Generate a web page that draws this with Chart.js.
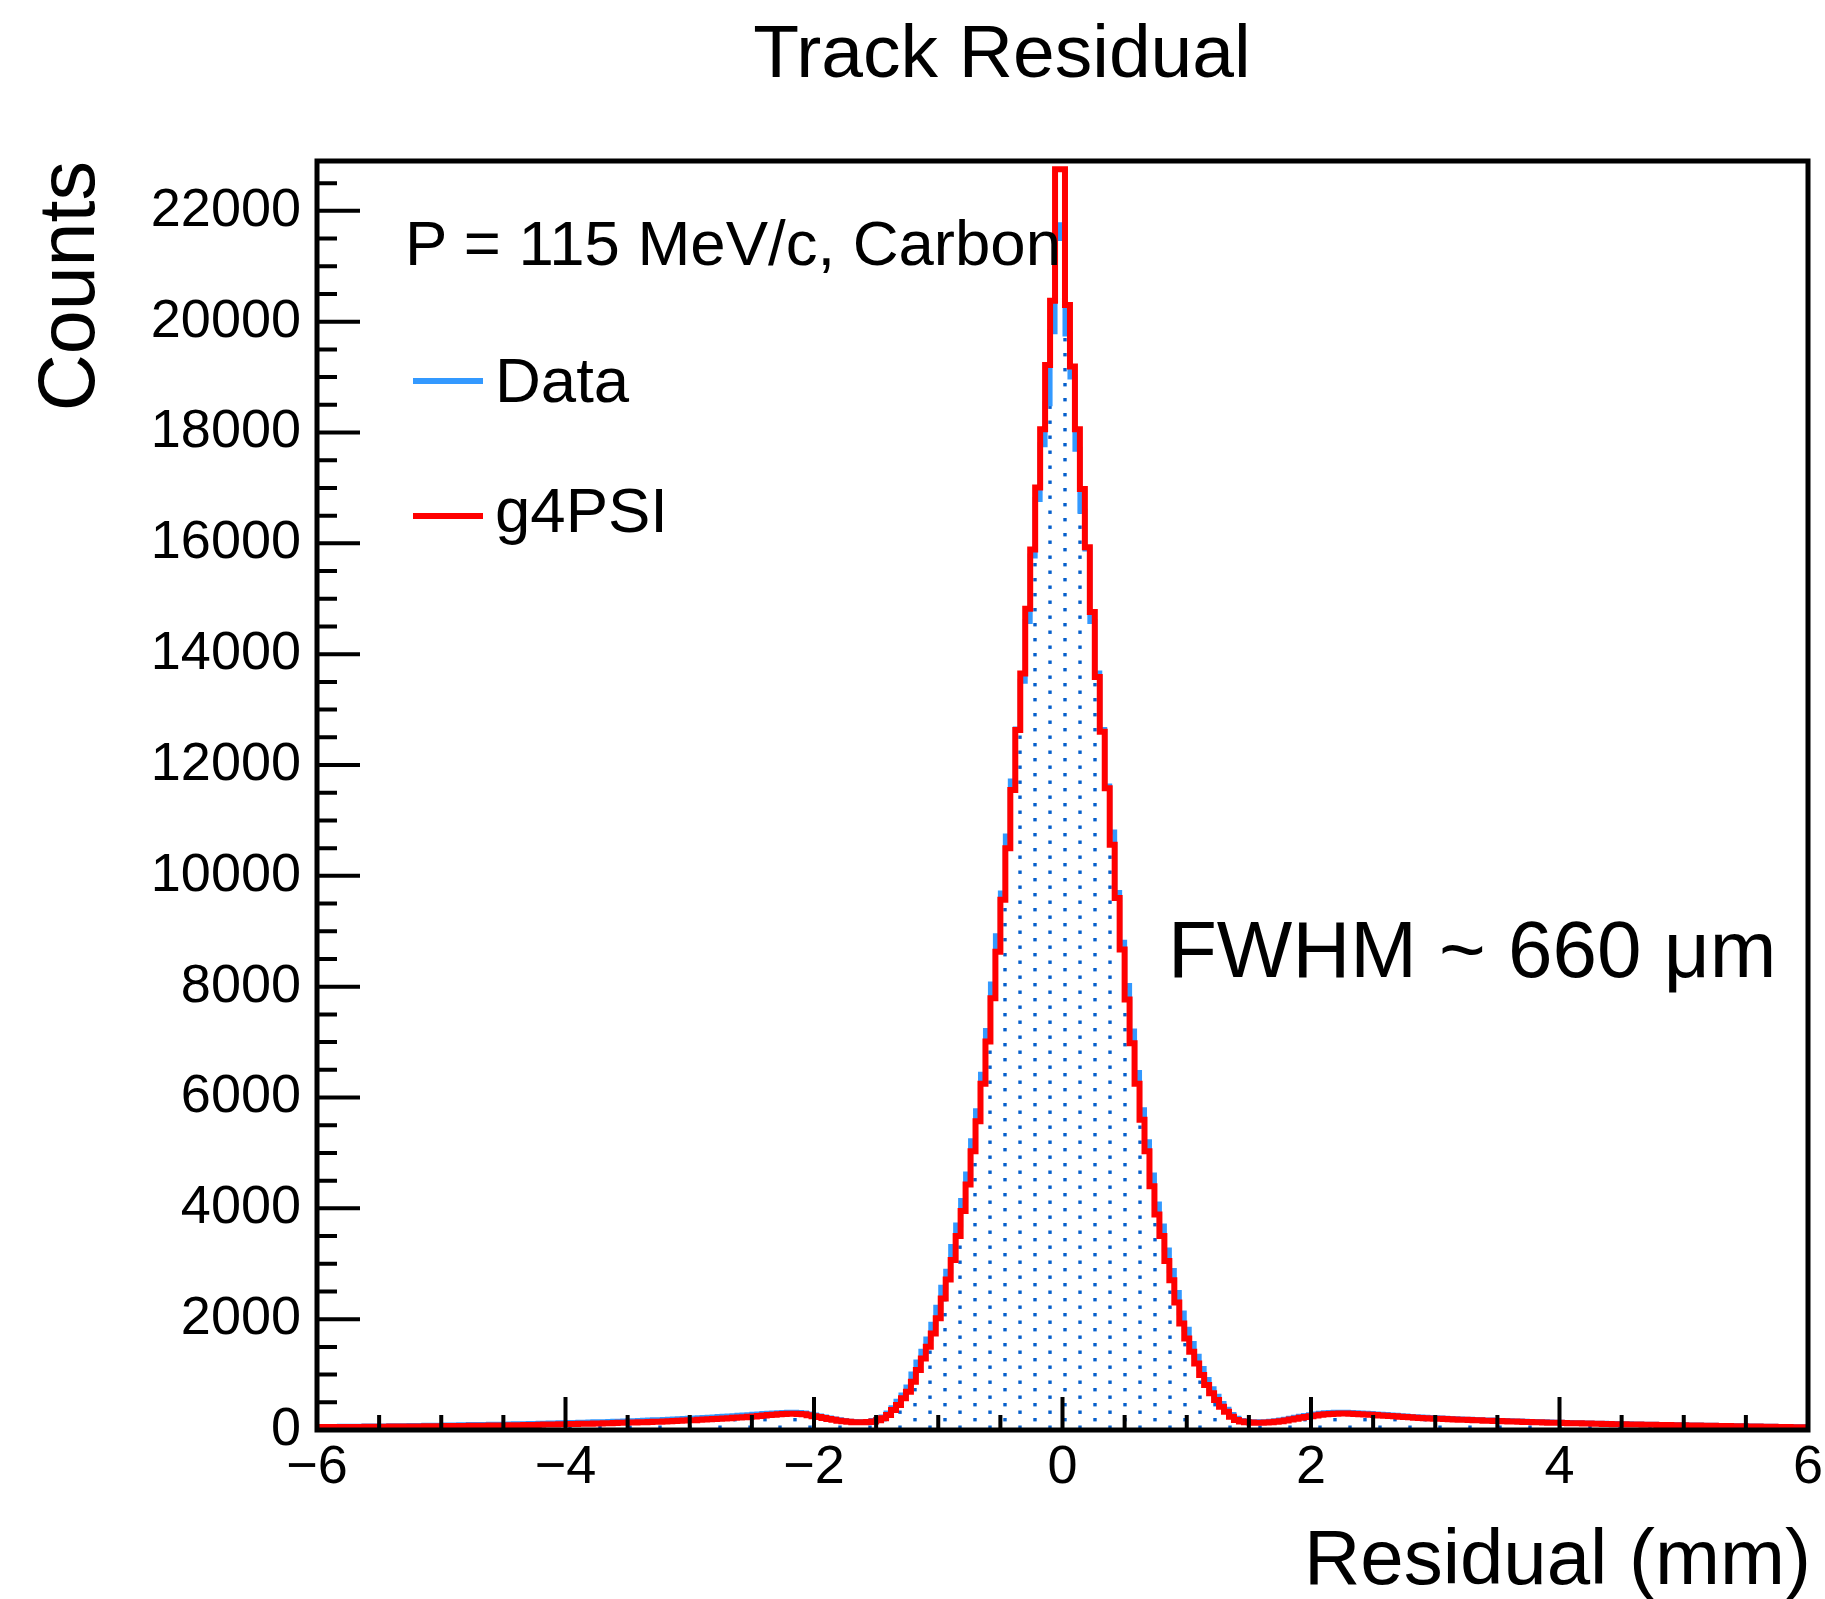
<!DOCTYPE html>
<html>
<head>
<meta charset="utf-8">
<title>Track Residual</title>
<script src="https://cdn.jsdelivr.net/npm/chart.js@4.4.1/dist/chart.umd.min.js"></script>
<style>
  body { margin: 0; background: #fff; }
  #wrap { position: relative; width: 1825px; height: 1599px; overflow: hidden;
          font-family: "Liberation Sans", Arial, sans-serif; color: #000; }
  #myChart { position: absolute; left: 0; top: 0; }
  .txt { position: absolute; white-space: nowrap; line-height: 1; }
  .legline { position: absolute; left: 413px; width: 70px; height: 6px; }
</style>
</head>
<body>
<div id="wrap">
  <canvas id="myChart" width="1825" height="1599"></canvas>
  <div class="txt" style="left:1002px; top:14px; font-size:75px; transform:translateX(-50%);">Track Residual</div>
  <div class="txt" style="left:0; top:0; width:400px; text-align:right; font-size:79px; transform-origin:0 0; transform:translate(27px, 561px) rotate(-90deg);">Counts</div>
  <div class="txt" style="right:14px; top:1518px; font-size:78px;">Residual (mm)</div>
  <div class="txt" style="left:405px; top:212px; font-size:63.5px;">P = 115 MeV/c, Carbon</div>
  <div class="legline" style="top:378px; background:#3399ff;"></div>
  <div class="txt" style="left:495px; top:349px; font-size:63.5px;">Data</div>
  <div class="legline" style="top:513px; background:#ff0000;"></div>
  <div class="txt" style="left:495px; top:479px; font-size:63.5px;">g4PSI</div>
  <div class="txt" style="left:1168px; top:910px; font-size:80px;">FWHM ~ 660 μm</div>
</div>
<script>
// histogram: 301 bins of 0.04 mm, first bin edge at -6.02, axis shown from -6 to 6
const binStart = -6.02;
const binWidth = 0.04;
const xMin = -6;
const xMax = 6;
const yMax = 22900;
const xTickValues = [-6, -4, -2, 0, 2, 4, 6];
const yTickValues = [0, 2000, 4000, 6000, 8000, 10000, 12000, 14000, 16000, 18000, 20000, 22000];
const xMinorStep = 0.5;
const yMinorStep = 500;

// g4PSI (simulation)
const g4psiCounts = [
  47,
  48, 52, 50, 53, 51, 55, 52, 54, 56, 53,
  57, 55, 58, 60, 57, 61, 59, 62, 60, 63,
  64, 62, 66, 65, 68, 66, 70, 68, 71, 72,
  73, 75, 74, 78, 77, 80, 79, 83, 82, 85,
  87, 86, 90, 92, 91, 95, 97, 99, 101, 104,
  106, 108, 107, 111, 113, 115, 118, 117, 121, 124,
  126, 129, 131, 134, 136, 139, 142, 145, 148, 151,
  155, 158, 162, 166, 170, 174, 178, 183, 188, 192,
  197, 203, 208, 214, 220, 226, 232, 239, 245, 252,
  262, 270, 276, 282, 288, 292, 294, 290, 282, 268,
  250, 234, 216, 199, 183, 169, 157, 148, 142, 139,
  140, 145, 155, 175, 210, 270, 360, 450, 571, 690,
  871, 1081, 1292, 1501, 1742, 2018, 2373, 2715, 3070, 3500,
  3950, 4430, 5030, 5570, 6250, 7010, 7790, 8630, 9570, 10500,
  11550, 12630, 13650, 14820, 15890, 17010, 18060, 19220, 20380, 22750,
  22750, 20300, 19190, 18060, 16980, 15930, 14760, 13590, 12600, 11580,
  10560, 9600, 8670, 7770, 6980, 6250, 5600, 5030, 4400, 3890,
  3500, 3050, 2703, 2300, 1922, 1652, 1411, 1201, 991, 811,
  661, 541, 420, 330, 240, 180, 155, 142, 136, 133,
  132, 134, 139, 147, 158, 172, 188, 204, 220, 236,
  250, 263, 274, 283, 290, 295, 297, 296, 293, 289,
  284, 280, 274, 269, 263, 258, 251, 246, 240, 233,
  228, 222, 218, 213, 209, 204, 201, 197, 193, 190,
  186, 184, 179, 177, 174, 169, 168, 163, 161, 159,
  155, 152, 149, 146, 144, 141, 138, 136, 133, 131,
  129, 126, 124, 122, 120, 118, 116, 114, 112, 110,
  108, 106, 104, 103, 101, 99, 98, 96, 94, 93,
  91, 90, 88, 87, 85, 84, 82, 81, 80, 78,
  77, 75, 74, 72, 71, 69, 68, 66, 65, 63,
  62, 60, 59, 57, 56, 54, 53, 51, 50, 48
];

// measured data
const dataCounts = [
  57,
  58, 63, 61, 65, 62, 66, 64, 67, 69, 66,
  70, 68, 72, 74, 71, 76, 74, 78, 76, 80,
  82, 79, 84, 83, 87, 85, 90, 88, 92, 93,
  95, 97, 96, 100, 99, 103, 102, 106, 105, 109,
  111, 110, 114, 117, 116, 120, 122, 125, 127, 130,
  133, 135, 134, 139, 141, 144, 147, 146, 151, 154,
  157, 160, 163, 166, 169, 172, 176, 179, 183, 186,
  190, 194, 198, 203, 207, 212, 216, 221, 226, 231,
  236, 242, 247, 253, 259, 265, 271, 277, 283, 290,
  296, 303, 308, 313, 317, 320, 321, 316, 306, 290,
  272, 254, 236, 218, 200, 184, 171, 160, 153, 149,
  148, 155, 170, 195, 235, 305, 400, 520, 630, 775,
  1010, 1225, 1420, 1640, 1910, 2216, 2577, 2865, 3310, 3700,
  4140, 4620, 5220, 5760, 6420, 7210, 8050, 8920, 9690, 10720,
  11710, 12650, 13510, 14590, 15770, 16790, 17780, 18520, 19820, 21500,
  21750, 19780, 19000, 17700, 16580, 15900, 14590, 13660, 12640, 11620,
  10790, 9700, 8800, 8020, 7200, 6450, 5780, 5200, 4600, 4080,
  3680, 3250, 2880, 2480, 2110, 1820, 1560, 1330, 1110, 910,
  745, 610, 480, 375, 280, 210, 172, 155, 148, 146,
  147, 150, 156, 166, 179, 194, 211, 229, 246, 262,
  277, 290, 301, 310, 316, 320, 322, 321, 318, 313,
  308, 302, 296, 290, 284, 278, 271, 265, 258, 251,
  245, 239, 234, 229, 224, 219, 215, 211, 207, 203,
  199, 196, 192, 189, 186, 182, 179, 176, 173, 170,
  167, 164, 161, 158, 155, 153, 150, 147, 145, 142,
  140, 137, 135, 133, 131, 128, 126, 124, 122, 120,
  118, 116, 114, 113, 111, 109, 107, 106, 104, 103,
  101, 99, 98, 96, 95, 93, 92, 90, 89, 87,
  86, 84, 83, 81, 80, 78, 77, 75, 74, 72,
  71, 69, 68, 66, 65, 63, 62, 60, 59, 57
];

const fontFam = '"Liberation Sans", Arial, sans-serif';

// bin i starts at binStart + i*binWidth, last point closes the final bin
function toSteps(counts) {
  const pts = counts.map((c, i) => ({x: binStart + i * binWidth, y: c}));
  pts.push({x: binStart + counts.length * binWidth, y: counts[counts.length - 1]});
  return pts;
}

// ROOT-like dotted fill
function dotPattern() {
  const c = document.createElement('canvas');
  c.width = 30;
  c.height = 15;
  const g = c.getContext('2d');
  g.fillStyle = '#055fcc';
  [[0, 2.2], [30, 2.2], [15, 9.7]].forEach(p => g.fillRect(p[0] - 1.7, p[1] - 1.7, 3.4, 3.4));
  return g.createPattern(c, 'repeat');
}

function minusLabel(v) {
  return v < 0 ? '\u2212' + Math.abs(v) : String(v);
}

// frame + inward ticks
const frameAxes = {
  id: 'frameAxes',
  afterDatasetsDraw(chart) {
    const {ctx, chartArea: a, scales: {x, y}} = chart;
    ctx.save();
    ctx.strokeStyle = '#000';
    ctx.lineWidth = 4;
    ctx.beginPath();
    const ny = Math.floor(yMax / yMinorStep);
    for (let i = 0; i <= ny; i++) {
      const v = i * yMinorStep;
      const py = y.getPixelForValue(v);
      const len = yTickValues.includes(v) ? 43 : 20;
      ctx.moveTo(a.left, py);
      ctx.lineTo(a.left + len, py);
    }
    const nx = Math.round((xMax - xMin) / xMinorStep);
    for (let i = 0; i <= nx; i++) {
      const v = xMin + i * xMinorStep;
      const px = x.getPixelForValue(v);
      const len = xTickValues.includes(v) ? 33 : 15;
      ctx.moveTo(px, a.bottom);
      ctx.lineTo(px, a.bottom - len);
    }
    ctx.stroke();
    ctx.lineWidth = 5;
    ctx.strokeRect(a.left, a.top, a.right - a.left, a.bottom - a.top);
    ctx.restore();
  }
};

const ctx = document.getElementById('myChart').getContext('2d');
const myChart = new Chart(ctx, {
  type: 'line',
  data: {
    datasets: [{
      label: 'g4PSI',
      data: toSteps(g4psiCounts),
      borderColor: '#ff0000',
      borderWidth: 6,
      stepped: 'after',
      pointRadius: 0,
      fill: false,
      order: 0
    }, {
      label: 'Data',
      data: toSteps(dataCounts),
      borderColor: '#3399ff',
      borderWidth: 5,
      backgroundColor: dotPattern(),
      stepped: 'after',
      pointRadius: 0,
      fill: 'origin',
      order: 1
    }]
  },
  options: {
    responsive: false,
    animation: false,
    devicePixelRatio: 1,
    layout: {padding: {left: 0, top: 161, right: 17, bottom: 0}},
    plugins: {legend: {display: false}, tooltip: {enabled: false}},
    scales: {
      x: {
        type: 'linear',
        min: xMin,
        max: xMax,
        grid: {display: false, drawTicks: false},
        border: {display: false},
        afterBuildTicks(s) { s.ticks = xTickValues.map(v => ({value: v})); },
        ticks: {
          autoSkip: false,
          maxRotation: 0,
          padding: 6,
          color: '#000',
          font: {family: fontFam, size: 54},
          callback: v => minusLabel(v)
        },
        afterFit(s) {
          s.height = 169;
          s.paddingLeft = 0;
          s.paddingRight = 0;
        }
      },
      y: {
        min: 0,
        max: yMax,
        grid: {display: false, drawTicks: false},
        border: {display: false},
        afterBuildTicks(s) { s.ticks = yTickValues.map(v => ({value: v})); },
        ticks: {
          autoSkip: false,
          padding: 16,
          color: '#000',
          font: {family: fontFam, size: 54},
          callback: v => String(v)
        },
        afterFit(s) {
          s.width = 317;
          s.paddingTop = 0;
          s.paddingBottom = 0;
        }
      }
    }
  },
  plugins: [frameAxes]
});
</script>
</body>
</html>
